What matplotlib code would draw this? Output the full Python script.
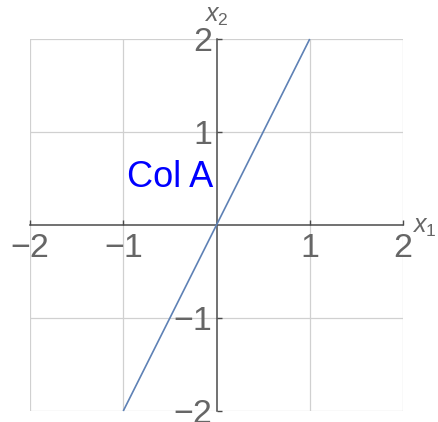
import matplotlib
matplotlib.use("Agg")
import matplotlib.pyplot as plt

# data
line_x = [-1, 0, 1]
line_y = [-2, 0, 2]
x_ticks = [-2, -1, 1, 2]
y_ticks = [-2, -1, 1, 2]
x_tick_labels = ["\u22122", "\u22121", "1", "2"]
y_tick_labels = ["\u22122", "\u22121", "1", "2"]
label_text = "Col A"

plt.rcParams['font.family'] = ['Liberation Sans', 'DejaVu Sans']
plt.rcParams['mathtext.fontset'] = 'custom'
plt.rcParams['mathtext.rm'] = 'Liberation Sans'
plt.rcParams['mathtext.it'] = 'Liberation Sans:italic'

fig = plt.figure(figsize=(4.38, 4.22), dpi=100)
ax = fig.add_axes([30/438, 11/422, 373/438, 372/422])
ax.set_xlim(-2, 2)
ax.set_ylim(-2, 2)

ax.plot(line_x, line_y, color=(0.368417, 0.506779, 0.709798), lw=1.2, zorder=3,
        solid_capstyle='butt', clip_on=False)

axis_col = '#4a4a4a'
text_col = '#666666'
for s in ['top', 'right']:
    ax.spines[s].set_visible(False)
ax.spines['left'].set_position('zero')
ax.spines['bottom'].set_position('zero')
for s in ['left', 'bottom']:
    ax.spines[s].set_color(axis_col)
    ax.spines[s].set_linewidth(1.1)
    ax.spines[s].set_zorder(2.5)

ax.set_xticks(x_ticks)
ax.set_xticklabels(x_tick_labels)
ax.set_yticks(y_ticks)
ax.set_yticklabels(y_tick_labels)
ax.tick_params(axis='both', direction='in', length=3.5, width=1.0, color=axis_col,
               labelcolor=text_col, labelsize=24.5)
ax.tick_params(axis='x', pad=5.5)
ax.tick_params(axis='y', pad=3)

ax.grid(True, color='#d0d0d0', lw=0.9, zorder=0)
ax.set_axisbelow(True)

ax.text(2.1, -0.08, r'$x_1$', fontsize=18, color=text_col, ha='left', va='baseline')
ax.text(0.0, 2.18, r'$x_2$', fontsize=18, color=text_col, ha='center', va='baseline')

ax.text(-0.04, 0.51, label_text, fontsize=26, color='#0000ff', ha='right', va='center')

fig.savefig('out.png', dpi=100)
